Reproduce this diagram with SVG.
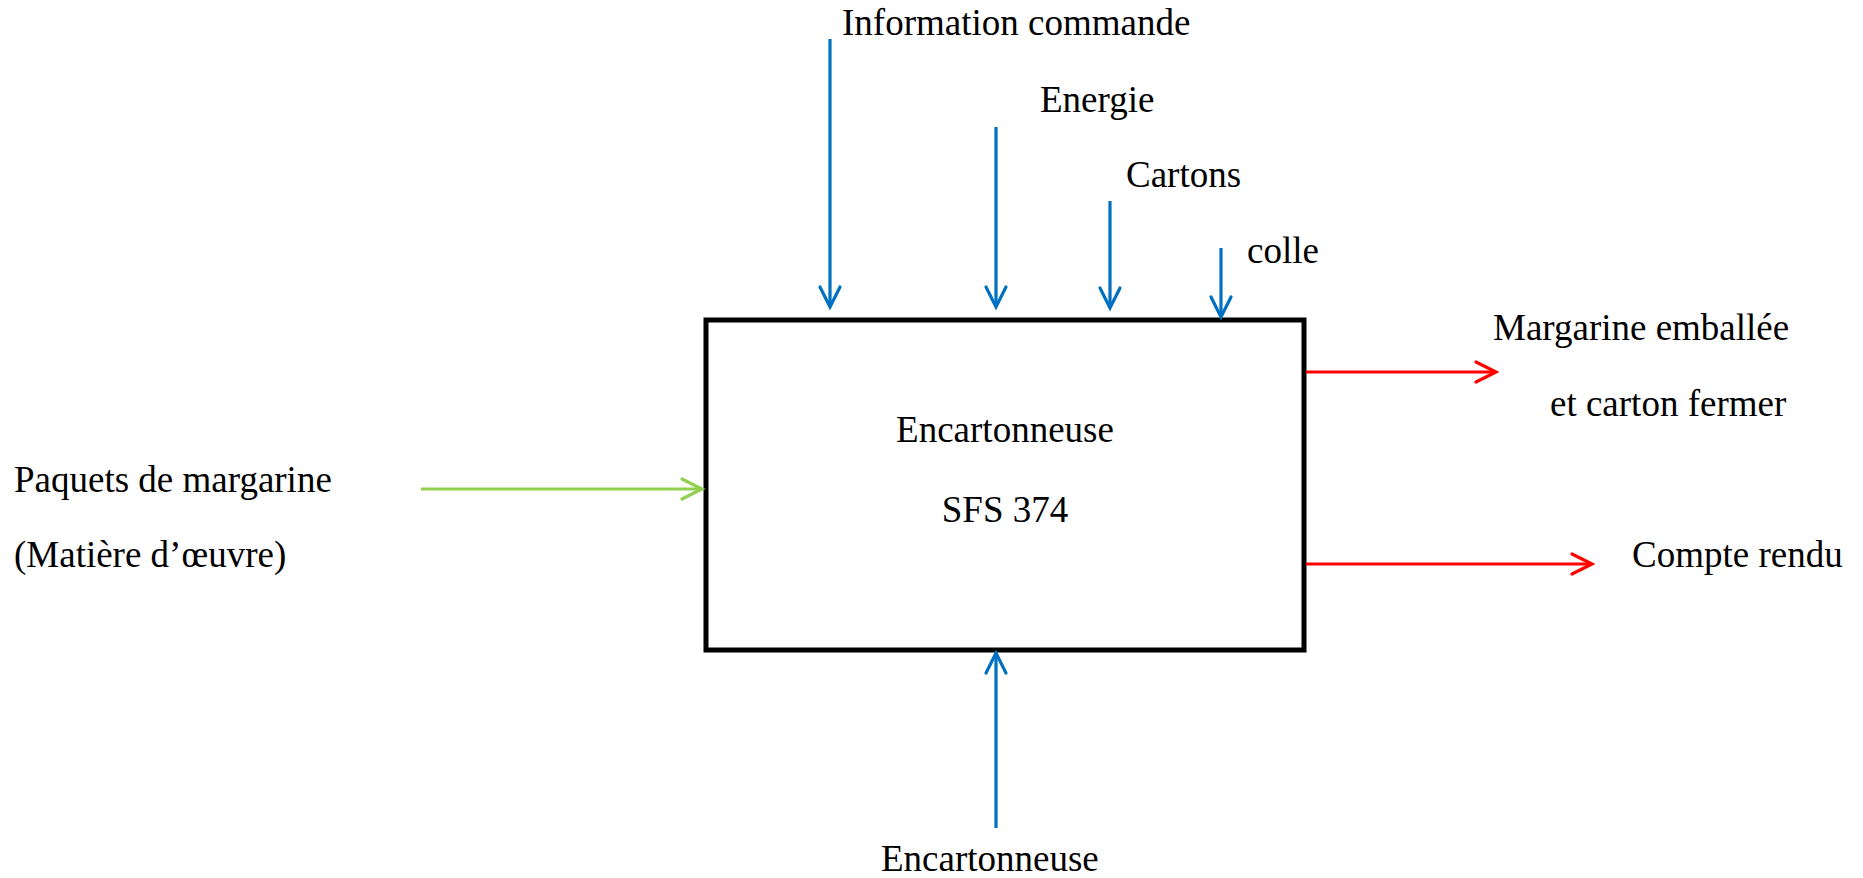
<svg xmlns="http://www.w3.org/2000/svg" width="1863" height="878" viewBox="0 0 1863 878">
  <style>
    text { font-family: "Liberation Serif", "Times New Roman", serif; font-size: 37px; fill: #000; }
    .blue { stroke: #0070C0; stroke-width: 3.2; fill: none; }
    .red { stroke: #FF0000; stroke-width: 3.2; fill: none; }
    .green { stroke: #92D050; stroke-width: 3.2; fill: none; }
    .box { fill: #fff; stroke: #000; stroke-width: 5; }
  </style>
  <defs>
    <marker id="headBlue" markerUnits="userSpaceOnUse" viewBox="-24 -14 28 28" refX="0" refY="0" markerWidth="28" markerHeight="28" orient="auto">
      <path d="M-20,-10 L0,0 L-20,10" fill="none" stroke="#0070C0" stroke-width="3.2" stroke-linecap="round" stroke-linejoin="miter"/>
    </marker>
    <marker id="headRed" markerUnits="userSpaceOnUse" viewBox="-24 -14 28 28" refX="0" refY="0" markerWidth="28" markerHeight="28" orient="auto">
      <path d="M-20,-10 L0,0 L-20,10" fill="none" stroke="#FF0000" stroke-width="3.2" stroke-linecap="round" stroke-linejoin="miter"/>
    </marker>
    <marker id="headGreen" markerUnits="userSpaceOnUse" viewBox="-24 -14 28 28" refX="0" refY="0" markerWidth="28" markerHeight="28" orient="auto">
      <path d="M-20,-10 L0,0 L-20,10" fill="none" stroke="#92D050" stroke-width="3.2" stroke-linecap="round" stroke-linejoin="miter"/>
    </marker>
  </defs>

  <rect width="1863" height="878" fill="#fff"/>

  <!-- main function block -->
  <g id="encartonneuse">
    <rect class="box" x="706" y="320" width="598" height="330"/>
    <text x="1005" y="442" text-anchor="middle">Encartonneuse</text>
    <text x="1005" y="522" text-anchor="middle">SFS 374</text>
  </g>

  <!-- flows in and out of the block -->
  <g id="connectors">
    <line class="blue" x1="830" y1="39" x2="830" y2="307" marker-end="url(#headBlue)"/>
    <line class="blue" x1="996" y1="127" x2="996" y2="307" marker-end="url(#headBlue)"/>
    <line class="blue" x1="1110" y1="201" x2="1110" y2="308" marker-end="url(#headBlue)"/>
    <line class="blue" x1="1221" y1="248" x2="1221" y2="317" marker-end="url(#headBlue)"/>
    <line class="blue" x1="996" y1="828" x2="996" y2="653" marker-end="url(#headBlue)"/>
    <line class="green" x1="421" y1="489" x2="702" y2="489" marker-end="url(#headGreen)"/>
    <line class="red" x1="1306" y1="372" x2="1496" y2="372" marker-end="url(#headRed)"/>
    <line class="red" x1="1306" y1="564" x2="1592" y2="564" marker-end="url(#headRed)"/>
  </g>

  <!-- labels of the flows -->
  <g id="label-information">
    <text x="842" y="35">Information commande</text>
  </g>
  <g id="label-energie">
    <text x="1040" y="112">Energie</text>
  </g>
  <g id="label-cartons">
    <text x="1126" y="187">Cartons</text>
  </g>
  <g id="label-colle">
    <text x="1247" y="263">colle</text>
  </g>
  <g id="label-paquets">
    <text x="14" y="492">Paquets de margarine</text>
    <text x="14" y="567">(Matière d’œuvre)</text>
  </g>
  <g id="label-margarine">
    <text x="1493" y="340">Margarine emballée</text>
    <text x="1550" y="416">et carton fermer</text>
  </g>
  <g id="label-compte">
    <text x="1632" y="567">Compte rendu</text>
  </g>
  <g id="label-support">
    <text x="881" y="871">Encartonneuse</text>
  </g>
</svg>
